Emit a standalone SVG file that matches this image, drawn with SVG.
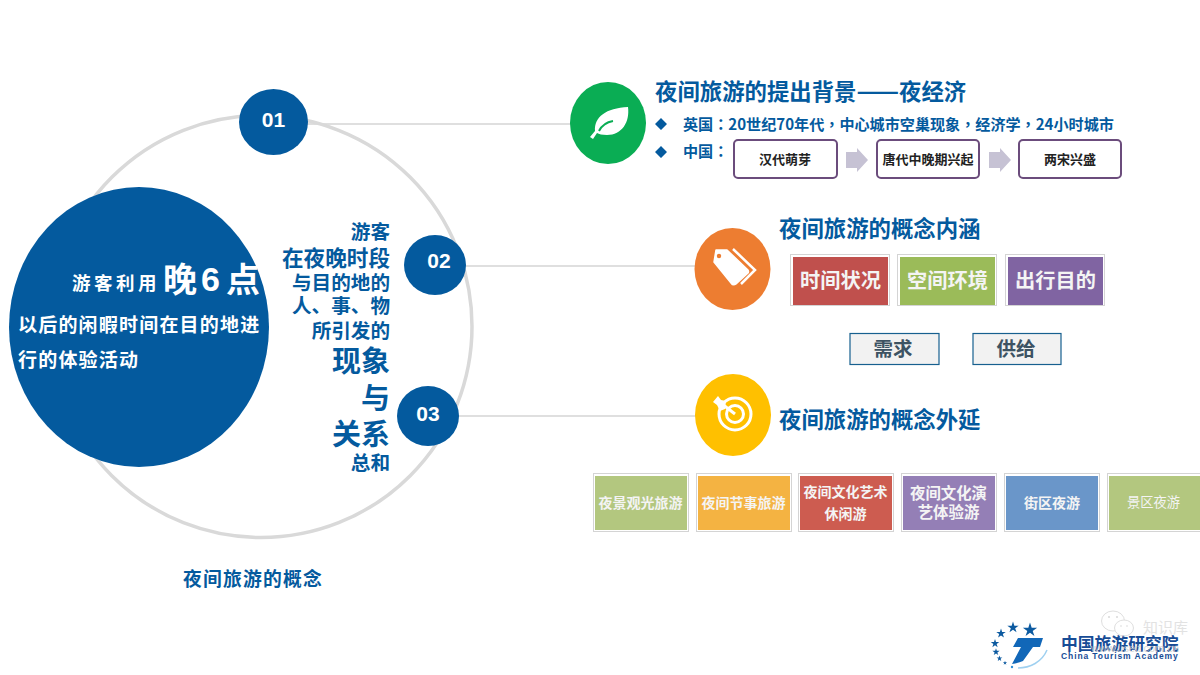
<svg xmlns="http://www.w3.org/2000/svg" xmlns:xlink="http://www.w3.org/1999/xlink" width="1200" height="675" viewBox="0 0 1200 675">
<defs>
<style>
text{font-family:"Noto Sans CJK SC","Liberation Sans",sans-serif;font-weight:700}
.b{fill:#045a9e}
.w{fill:#fff}
.p{font-family:"Noto Sans CJK TC","Noto Sans CJK SC",sans-serif}
.num{font-family:"Liberation Sans",Arial,sans-serif;font-size:21px;fill:#fff;text-anchor:middle}
.h{font-size:22.4px;fill:#045a9e}
.tag{stroke:#d4d4d4;stroke-width:1;fill:#fff}
.pb{fill:#fff;stroke:#6b4c7c;stroke-width:2}
.pt{font-size:13px;fill:#222;text-anchor:middle}
.sb{fill:#f2f2f2;stroke:#17608f;stroke-width:1.2}
.st{font-size:19.5px;fill:#3d5363;text-anchor:middle}
.t16{font-size:20.2px;fill:#f4f4f4;text-anchor:middle}
.t13{font-size:14px;fill:#f4f4f4;text-anchor:middle}
.side{font-size:19.6px;fill:#045a9e;text-anchor:end}
.side2{font-size:29px;fill:#045a9e;text-anchor:end}
.arr{fill:#c6c2d4}
.star{fill:#0c5aa0}
</style>
<polygon id="st" points="0,-1 .225,-.31 .95,-.31 .36,.12 .59,.81 0,.38 -.59,.81 -.36,.12 -.95,-.31 -.225,-.31"/>
</defs>
<rect width="1200" height="675" fill="#fff"/>
<g id="connectors" fill="none" stroke="#d5d5d5" stroke-width="1.5">
<line x1="305" y1="124" x2="575" y2="124"/>
<line x1="464" y1="266" x2="700" y2="266"/>
<line x1="456" y1="416" x2="700" y2="416"/>
</g>
<g id="ring"><circle cx="261" cy="326.500" r="211" fill="none" stroke="#d9d9d9" stroke-width="3.500"/></g>
<g id="core">
<ellipse cx="139" cy="327" rx="130" ry="140" fill="#045a9e"/>
<text class="w" x="72" y="290" font-size="18.500" letter-spacing="3.500">游客利用</text>
<text class="w" x="163" y="292" font-size="34">晚</text>
<text class="w" x="201" y="291" font-size="34" style="font-family:'Liberation Sans',sans-serif">6</text>
<text class="w" x="226" y="292" font-size="34">点</text>
<text class="w" x="18" y="332" font-size="19" letter-spacing="1.200">以后的闲暇时间在目的地进</text>
<text class="w" x="18" y="367" font-size="19" letter-spacing="1.200">行的体验活动</text>
</g>
<g id="n01"><ellipse cx="273.500" cy="122" rx="34.500" ry="33" fill="#045a9e"/><text class="num" x="273.500" y="127">01</text></g>
<g id="n02"><ellipse cx="435" cy="265" rx="31" ry="30" fill="#045a9e"/><text class="num" x="439" y="268">02</text></g>
<g id="n03"><ellipse cx="428" cy="416" rx="31" ry="30" fill="#045a9e"/><text class="num" x="428" y="421">03</text></g>
<g id="side-text">
<text class="side" x="390" y="239">游客</text>
<text class="side" x="390" y="266" style="font-size:21.600px">在夜晚时段</text>
<text class="side" x="390" y="289.500">与目的地的</text>
<text class="side" x="390" y="313">人、事、物</text>
<text class="side" x="390" y="338">所引发的</text>
<text class="side2" x="390" y="372">现象</text>
<text class="side2" x="390" y="409">与</text>
<text class="side2" x="390" y="445">关系</text>
<text class="side" x="390" y="470">总和</text>
</g>
<g id="caption"><text class="b" x="253" y="586" text-anchor="middle" style="font-size:18.800px" letter-spacing="1.200">夜间旅游的概念</text></g>

<g id="bg-node">
<ellipse cx="608" cy="123" rx="38" ry="41" fill="#0aad54"/>
<path d="M590 137L595 131C594 117 606 108 628 107C630 122 622 135 607 135C602 135 599 134 597 133L593 139Z" fill="#fff"/>
<path d="M599 131C602 125 607 122 613 121" fill="none" stroke="#0aad54" stroke-width="2"/>
<text class="h" x="655" y="100">夜间旅游的提出背景<tspan style="font-size:25px">——</tspan>夜经济</text>
<path d="M661 118l6 6-6 6-6-6zM661 146l6 6-6 6-6-6z" fill="#045a9e"/>
<text class="b" x="683" y="130" font-size="15.100">英国<tspan class="p">：</tspan>20世纪70年代<tspan class="p">，</tspan>中心城市空巢现象<tspan class="p">，</tspan>经济学<tspan class="p">，</tspan>24小时城市</text>
<text class="b" x="683" y="157" font-size="15.100">中国<tspan class="p">：</tspan></text>
<rect class="pb" x="734" y="140" width="103" height="38" rx="4"/><text class="pt" x="785" y="164">汉代萌芽</text>
<path class="arr" d="M846 152h11v-4l11 12-11 12v-4h-11z"/>
<rect class="pb" x="877" y="140" width="102" height="38" rx="4"/><text class="pt" x="928" y="164">唐代中晚期兴起</text>
<path class="arr" d="M989 152h11v-4l11 12-11 12v-4h-11z"/>
<rect class="pb" x="1019" y="140" width="102" height="38" rx="4"/><text class="pt" x="1070" y="164">两宋兴盛</text>
</g>

<g id="connotation-node">
<ellipse cx="732.500" cy="269" rx="38" ry="41" fill="#ed7d31"/>
<path d="M716 250L727 250L748 270Q749 272 748 273L736 284Q733 286 731 283L714 262Z" fill="#fff" stroke="#fff" stroke-width="1.500" stroke-linejoin="round"/>
<circle cx="719" cy="256" r="2.200" fill="#ed7d31"/>
<path d="M733 249L755 270 741 284" fill="none" stroke="#fff" stroke-width="2.500"/>
<text class="h" x="779" y="237">夜间旅游的概念内涵</text>
<rect class="tag" x="790.500" y="254.500" width="99" height="51"/><rect x="793" y="257" width="95" height="48" fill="#c0504d"/><text class="t16" x="840.500" y="288">时间状况</text>
<rect class="tag" x="897.500" y="254.500" width="99" height="51"/><rect x="900" y="257" width="95" height="48" fill="#9bbb59"/><text class="t16" x="947.500" y="288">空间环境</text>
<rect class="tag" x="1005.500" y="254.500" width="99" height="51"/><rect x="1008" y="257" width="95" height="48" fill="#8064a2"/><text class="t16" x="1055.500" y="288">出行目的</text>
<rect class="sb" x="850" y="333.500" width="89" height="31"/><text class="st" x="893" y="356">需求</text>
<rect class="sb" x="973" y="333.500" width="88" height="31"/><text class="st" x="1016" y="356">供给</text>
</g>

<g id="extension-node">
<ellipse cx="733" cy="415" rx="38" ry="41" fill="#ffc000"/>
<circle cx="735" cy="414" r="16" fill="none" stroke="#fff" stroke-width="3"/>
<circle cx="735" cy="414" r="8.500" fill="none" stroke="#fff" stroke-width="3"/>
<path d="M735 414L722 404" stroke="#fff" stroke-width="3"/>
<path d="M718 396l3 4 5 1-1 8-5 2-3-6-4-3z" fill="#fff"/>
<text class="h" x="779" y="428">夜间旅游的概念外延</text>
</g>

<g id="types">
<g><rect class="tag" x="593.500" y="473.500" width="95" height="58"/><rect x="595" y="476" width="92" height="54" fill="#b3c77f"/><text class="t13" x="640.500" y="508">夜景观光旅游</text></g>
<g><rect class="tag" x="696.500" y="473.500" width="95" height="58"/><rect x="698" y="476" width="92" height="54" fill="#f4b342"/><text class="t13" x="743.500" y="508">夜间节事旅游</text></g>
<g><rect class="tag" x="798.500" y="473.500" width="95" height="58"/><rect x="800" y="476" width="92" height="54" fill="#cd5c50"/><text class="t13" x="845.500" y="497">夜间文化艺术</text><text class="t13" x="845.500" y="519">休闲游</text></g>
<g><rect class="tag" x="901.500" y="473.500" width="95" height="58"/><rect x="903" y="476" width="92" height="54" fill="#947fb6"/><text class="t13" x="948.500" y="499" style="font-size:15.400px">夜间文化演</text><text class="t13" x="948.500" y="518" style="font-size:15.400px">艺体验游</text></g>
<g><rect class="tag" x="1004.500" y="473.500" width="95" height="58"/><rect x="1006" y="476" width="92" height="54" fill="#6a96c9"/><text class="t13" x="1052" y="508">街区夜游</text></g>
<g><rect class="tag" x="1107.500" y="473.500" width="95" height="58"/><rect x="1109" y="476" width="91" height="54" fill="#b3c77f"/><text class="t13" x="1153.500" y="507" style="font-size:13.300px;font-weight:400">景区夜游</text></g>
</g>

<g id="logo">
<use xlink:href="#st" href="#st" class="star" transform="translate(1030 630) scale(7.500)"/>
<use xlink:href="#st" href="#st" class="star" transform="translate(1013 627.500) scale(6)"/>
<use xlink:href="#st" href="#st" class="star" transform="translate(1001 633.500) scale(5)"/>
<use xlink:href="#st" href="#st" class="star" transform="translate(995 643.500) scale(4.500)"/>
<use xlink:href="#st" href="#st" class="star" transform="translate(996 652) scale(3.800)"/>
<use xlink:href="#st" href="#st" class="star" transform="translate(999.500 658.500) scale(3)"/>
<use xlink:href="#st" href="#st" class="star" transform="translate(1005 663) scale(2.200)"/>
<circle cx="1012" cy="667" r="1.200" fill="#2f8fd8"/>
<path d="M1018 638H1043L1040 647H1033L1023 661Q1018 663 1012 664L1021 647H1013Z" fill="#1167b8"/>
<path d="M1018 668C1030 668 1042 662 1047 650" fill="none" stroke="#9fd0f0" stroke-width="1.500"/>
<text x="1061" y="650" font-size="16.800" fill="#174c96">中国旅游研究院</text>
<text x="1061" y="658.500" font-size="8.500" fill="#174c96" letter-spacing=".9" style="font-family:'Liberation Sans',sans-serif">China Tourism Academy</text>
</g>
<g id="watermark" opacity=".8">
<ellipse cx="1113" cy="621" rx="11.500" ry="10" fill="#fff" stroke="#d8d8d8" stroke-width="1"/>
<ellipse cx="1124" cy="628" rx="9.500" ry="8" fill="#fff" stroke="#d8d8d8" stroke-width="1"/>
<circle cx="1109" cy="617" r="1" fill="#d0d0d0"/><circle cx="1117" cy="617" r="1" fill="#d0d0d0"/><circle cx="1121" cy="626" r=".8" fill="#d0d0d0"/><circle cx="1127" cy="626" r=".8" fill="#d0d0d0"/>
<text x="1143" y="633" font-size="15" fill="#dcdcdc" style="font-weight:400">知识库</text>
<text x="1091" y="652" font-size="11" fill="#cfcfcf" style="font-weight:400;font-family:'Liberation Sans',sans-serif">www.useit.com.cn</text>
</g>
</svg>
